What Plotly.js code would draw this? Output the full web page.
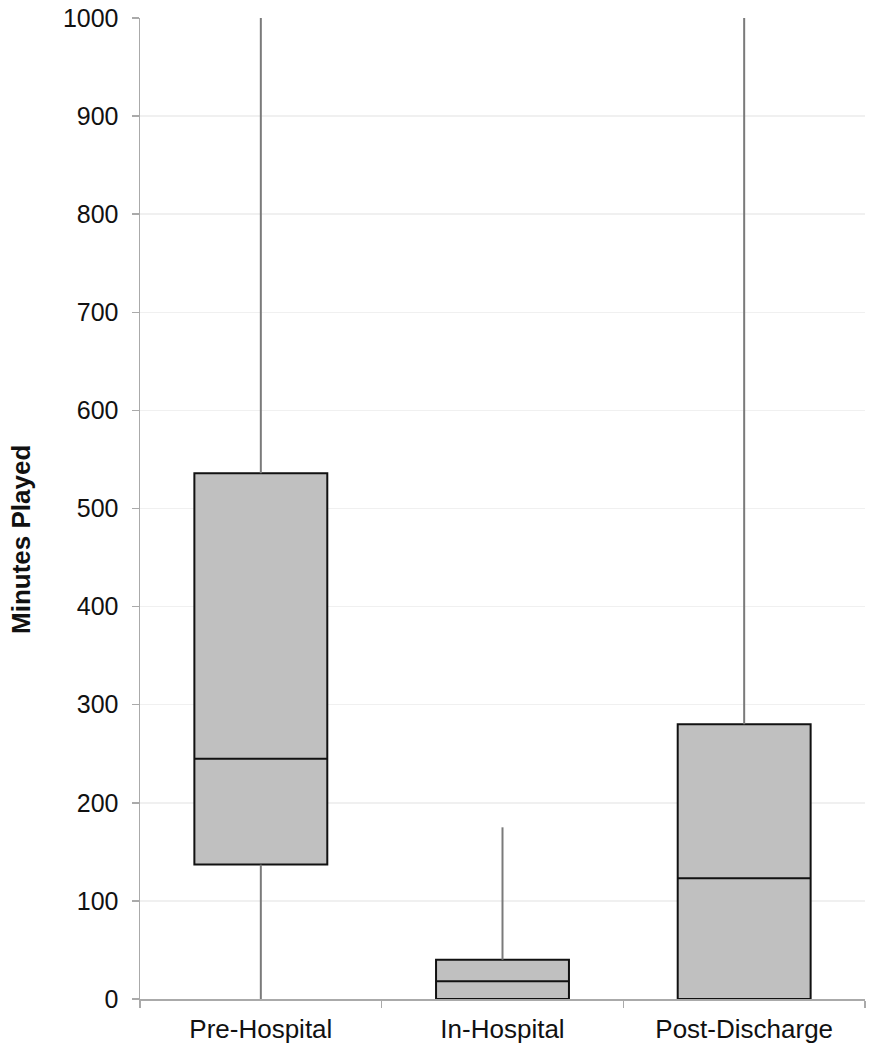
<!DOCTYPE html>
<html>
<head>
<meta charset="utf-8">
<script src="https://cdn.plot.ly/plotly-3.0.1.min.js"></script>
<style>
  html, body { margin: 0; padding: 0; background: #fff; }
  #chart { width: 876px; height: 1050px; }
</style>
</head>
<body>
<div id="chart"></div>
<script>
// box plot summary (minutes played)
const categories = ['Pre-Hospital', 'In-Hospital', 'Post-Discharge'];
const lowWhisker = [0, 0, 0];
const q1 = [137, 0, 0];
const median = [245, 18, 123];
const q3 = [536, 40, 280];
const highWhisker = [1000, 175, 1000];

const yTicks = [0, 100, 200, 300, 400, 500, 600, 700, 800, 900, 1000];

const FONT = 'Liberation Sans, Arial, sans-serif';

// whiskers are grey in the original while the box outline is black,
// so the box trace gets no whiskers and they are drawn as line traces
const whiskerX = [];
const whiskerY = [];
categories.forEach((c, i) => {
  whiskerX.push(c, c, null, c, c, null);
  whiskerY.push(q3[i], highWhisker[i], null, lowWhisker[i], q1[i], null);
});

const data = [
  {
    type: 'box',
    x: categories,
    q1: q1,
    median: median,
    q3: q3,
    lowerfence: q1,
    upperfence: q3,
    fillcolor: '#c0c0c0',
    line: { color: '#111', width: 2 },
    whiskerwidth: 0,
    boxpoints: false,
    hoverinfo: 'skip',
    showlegend: false
  },
  {
    type: 'scatter',
    mode: 'lines',
    x: whiskerX,
    y: whiskerY,
    line: { color: '#7a7a7a', width: 2 },
    connectgaps: false,
    hoverinfo: 'skip',
    showlegend: false
  }
];

const layout = {
  width: 876,
  height: 1050,
  margin: { l: 140, r: 11, t: 18, b: 51 },
  paper_bgcolor: '#fff',
  plot_bgcolor: '#fff',
  font: { family: FONT, size: 24, color: '#111' },
  boxgap: 0.45,
  boxgroupgap: 0,
  showlegend: false,
  xaxis: {
    type: 'category',
    showline: true,
    linecolor: '#aaa',
    linewidth: 1.5,
    ticks: 'outside',
    tickson: 'boundaries',
    ticklen: 7,
    tickcolor: '#aaa',
    tickwidth: 1.5,
    ticklabelstandoff: 6,
    showgrid: false,
    zeroline: false,
    tickfont: { family: FONT, size: 26, color: '#111' }
  },
  yaxis: {
    range: [0, 1000],
    tickvals: yTicks,
    ticks: 'outside',
    ticklen: 7,
    tickcolor: '#aaa',
    tickwidth: 1.5,
    ticklabelstandoff: 8,
    showline: true,
    linecolor: '#aaa',
    linewidth: 1.5,
    showgrid: true,
    gridcolor: '#f0f0f0',
    gridwidth: 1.5,
    zeroline: false,
    tickfont: { family: FONT, size: 25, color: '#111' }
  },
  annotations: [{
    text: '<b>Minutes Played</b>',
    xref: 'paper',
    yref: 'paper',
    x: -0.164,
    y: 0.468,
    xanchor: 'center',
    yanchor: 'middle',
    textangle: -90,
    showarrow: false,
    font: { family: FONT, size: 26, color: '#111' }
  }]
};

Plotly.newPlot('chart', data, layout, { displayModeBar: false, staticPlot: true });
</script>
</body>
</html>
